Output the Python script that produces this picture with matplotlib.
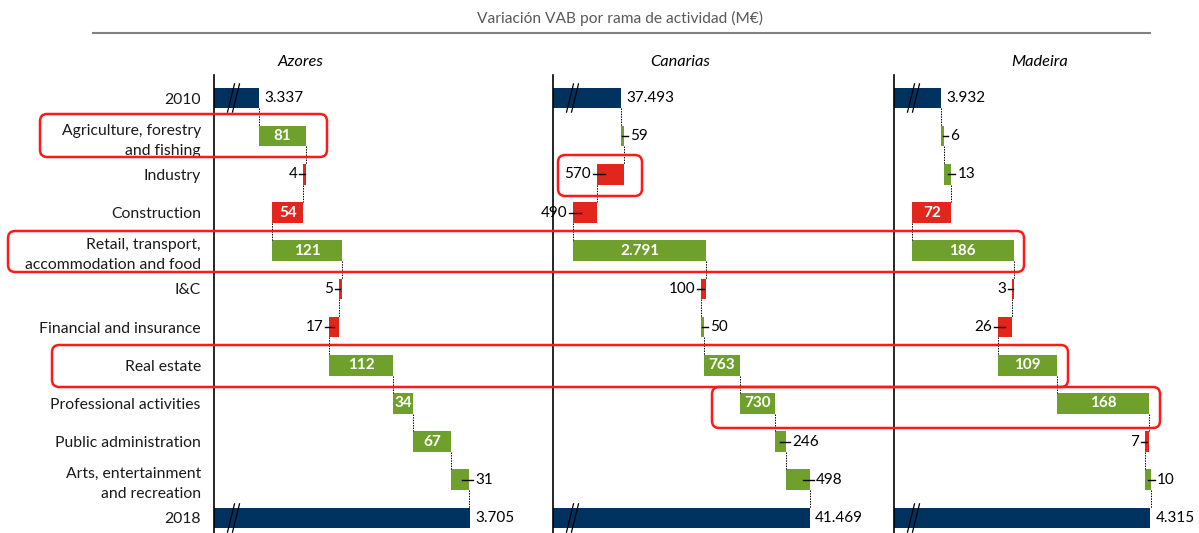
import matplotlib
matplotlib.use("Agg")
import matplotlib.pyplot as plt
from matplotlib.patches import FancyBboxPatch
from matplotlib.lines import Line2D
import matplotlib.transforms as mtrans

plt.rcParams['font.family'] = ['Lato', 'DejaVu Sans']

categories = ["2010", "Agriculture, forestry\nand fishing", "Industry", "Construction",
              "Retail, transport,\naccommodation and food", "I&C", "Financial and insurance",
              "Real estate", "Professional activities", "Public administration",
              "Arts, entertainment\nand recreation", "2018"]

regions = ["Azores", "Canarias", "Madeira"]
start_values = [3337, 37493, 3932]
end_values = [3705, 41469, 4315]
azores_changes = [81, -4, -54, 121, -5, -17, 112, 34, 67, 31]
canarias_changes = [59, -570, -490, 2791, -100, 50, 763, 730, 246, 498]
madeira_changes = [6, 13, -72, 186, -3, -26, 109, 168, -7, 10]
changes = [azores_changes, canarias_changes, madeira_changes]
# labels drawn inside the bar (1) or beside it (0)
azores_inside = [1, 0, 1, 1, 0, 0, 1, 1, 1, 0]
canarias_inside = [0, 0, 0, 1, 0, 0, 1, 1, 0, 0]
madeira_inside = [0, 0, 1, 1, 0, 0, 1, 1, 0, 0]
inside = [azores_inside, canarias_inside, madeira_inside]
xlims = [(3258, 3816), (36062, 42799), (3846, 4395)]

NAVY = "#00325F"
GREEN = "#6FA02B"
RED = "#E2261C"
HL = "#FF1A1A"

W, H = 1199, 533
fig = plt.figure(figsize=(W / 100, H / 100), dpi=100)

def fx(px):
    return px / W

def fy(py):
    return 1 - py / H

ax_left_px = [214, 553, 894]
ax_w_px = [320, 320, 300]
top_px, bot_px = 75, 533
row0_px, rowstep_px = 98, 38.18
ylim_top = -(row0_px - top_px) / rowstep_px
ylim_bot = 11 + (bot_px - (row0_px + 11 * rowstep_px)) / rowstep_px
title_px = [300, 680, 1040]

BH = 0.54
FS = 11.3
FSV = 11.0

def fmt(v):
    return f"{abs(v):,}".replace(",", ".")

for k in range(3):
    ax = fig.add_axes([fx(ax_left_px[k]), fy(bot_px), fx(ax_w_px[k]), (bot_px - top_px) / H])
    ax.set_xlim(*xlims[k])
    ax.set_ylim(ylim_bot, ylim_top)
    for s in ["top", "right", "bottom"]:
        ax.spines[s].set_visible(False)
    ax.spines["left"].set_linewidth(1.2)
    ax.tick_params(left=False, bottom=False, labelbottom=False)
    ax.set_xticks([])
    if k == 0:
        ax.set_yticks(range(len(categories)))
        ax.set_yticklabels(categories, fontsize=FS, color="#1a1a1a", linespacing=1.55)
        ax.tick_params(axis="y", pad=6)
    else:
        ax.set_yticks([])
    ax.text((title_px[k] - ax_left_px[k]) / ax_w_px[k], 1 - (62 - top_px) / (bot_px - top_px),
            regions[k], transform=ax.transAxes, ha="center", va="center", fontsize=11.8,
            style="italic")
    upp = (xlims[k][1] - xlims[k][0]) / ax_w_px[k]  # units per pixel
    x0 = xlims[k][0]
    # start bar
    ax.barh(0, start_values[k] - x0, left=x0, height=BH, color=NAVY)
    ax.text(start_values[k] + 5 * upp, 0, fmt(start_values[k]), va="center", ha="left", fontsize=FSV)
    total = start_values[k]
    for i, v in enumerate(changes[k]):
        row = i + 1
        new = total + v
        left = min(total, new)
        width = abs(v)
        color = GREEN if v > 0 else RED
        ax.barh(row, width, left=left, height=BH, color=color)
        ax.plot([total, total], [row - 1 + BH / 2, row - BH / 2], color="black", lw=0.7,
                linestyle=(0, (1.5, 1.2)))
        if inside[k][i]:
            ax.text(left + width / 2, row, fmt(v), ha="center", va="center", color="white",
                    fontsize=FSV, fontweight="bold")
        else:
            wpx = width / upp
            edge = new
            if v > 0:
                ax.plot([edge - min(7, wpx / 2) * upp, edge + 4 * upp], [row, row], color="black", lw=1)
                ax.text(edge + 6 * upp, row, fmt(v), ha="left", va="center", fontsize=FSV)
            else:
                ax.plot([edge + min(8, wpx / 2) * upp, edge - 4 * upp], [row, row], color="black", lw=1)
                ax.text(edge - 6 * upp, row, fmt(v), ha="right", va="center", fontsize=FSV)
        total = new
    last = len(categories) - 1
    ax.plot([total, total], [last - 1 + BH / 2, last - BH / 2], color="black", lw=0.7,
            linestyle=(0, (1.5, 1.2)))
    ax.barh(last, end_values[k] - x0, left=x0, height=BH, color=NAVY)
    ax.text(end_values[k] + 5 * upp, last, fmt(end_values[k]), va="center", ha="left", fontsize=FSV)
    # break marks
    tr = mtrans.blended_transform_factory(ax.transAxes, ax.transData)
    for row in (0, last):
        for off in (17, 22):
            xa = off / ax_w_px[k]
            d = 3.5 / ax_w_px[k]
            ax.add_line(Line2D([xa - d, xa + d], [row + 0.37, row - 0.37], transform=tr,
                               color="black", lw=0.9, clip_on=False))

# highlight boxes: (x0_px, x1_px, y0_px, y1_px)
boxes = [(40, 327, 114, 157), (558, 642, 155, 196), (8, 1024, 231, 272),
         (52, 1068, 345, 387), (712, 1160, 387, 428)]
for (a, b, c, d) in boxes:
    p = FancyBboxPatch((fx(a), fy(d)), fx(b - a), (d - c) / H,
                       boxstyle="round,pad=0,rounding_size=0.006",
                       transform=fig.transFigure, fill=False, edgecolor=HL, lw=1.8,
                       mutation_aspect=W / H)
    fig.add_artist(p)

fig.text(fx(620), fy(18), "Variación VAB por rama de actividad (M€)", ha="center", va="center",
         fontsize=11.2, color="#595959")
fig.add_artist(Line2D([fx(93), fx(1150)], [fy(33), fy(33)], transform=fig.transFigure,
                      color="#808080", lw=1.5))

fig.savefig("out.png", dpi=100)
